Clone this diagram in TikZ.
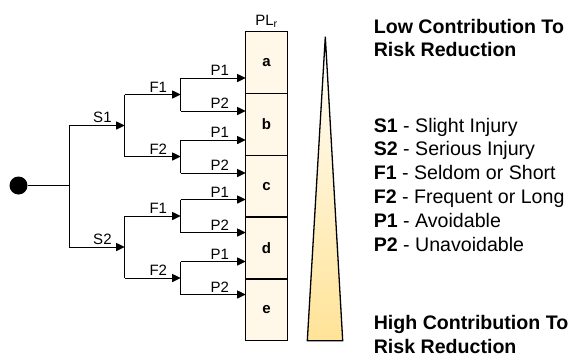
\documentclass[tikz,border=0pt]{standalone}
\usepackage{fontspec}
\setmainfont{Liberation Sans}
\usepackage{tikz}
\usetikzlibrary{positioning}
\usetikzlibrary{arrows.meta}
\definecolor{cellfill}{HTML}{FFF8E8}
\definecolor{wedge}{HTML}{FFE397}
\tikzset{every picture/.style={line width=1pt},
arr/.style={-{Triangle[length=8.5pt,width=8pt]}},
lbl/.style={above,inner sep=2pt,font=\fontsize{15}{18}\selectfont},
cell/.style={draw,line width=1.3pt,fill=cellfill,minimum width=41.6pt,minimum height=61.8pt,outer sep=0pt,inner sep=0pt,font=\bfseries\fontsize{15}{18}\selectfont},
legend/.style={anchor=base west,inner sep=0pt,font=\fontsize{19.6}{23}\selectfont}}

\begin{document}
\begin{tikzpicture}[x=1pt,y=-1pt]
\useasboundingbox (0,0) rectangle (577,362);
% PL_r column
\node (a) at (266.5,62.6) [cell] {a};
\foreach \c/\p in {b/a,c/b,d/c,e/d}{
\node (\c) [cell,below=0pt of \p] {\c};
}
\node (plr) [lbl,above=1.5pt of a] {PL\textsubscript{r}};
% risk graph
\node (start) at (18.5,185.5) [circle,fill,inner sep=0pt,minimum size=18pt] {};
\coordinate (root) at (69,185.5);
\draw (start) -- (root);
\foreach \i/\sy in {1/125.5,2/247}{
\coordinate (s\i) at (69,\sy);
\coordinate (S\i) at (124.7,\sy);
\draw[arr] (s\i) -- node[lbl,pos=0.6] {S\i} (S\i);
\foreach \j/\fy in {1/-31,2/31}{
\coordinate (f\i\j) at (124.7,{\sy+\fy});
\coordinate (F\i\j) at (180.7,{\sy+\fy});
\draw[arr] (f\i\j) -- node[lbl,pos=0.6] {F\j} (F\i\j);
\foreach \k/\py in {1/-16.5,2/16.5}{
\coordinate (p\i\j\k) at (180.7,{\sy+\fy+\py});
\draw[arr] (p\i\j\k) -- node[lbl,pos=0.6] {P\k} (p\i\j\k -| a.west);
}
\draw (p\i\j1) -- (p\i\j2);
}
\draw (f\i1) -- (f\i2);
}
\draw (s1) -- (s2);
% wedge
\draw[line width=1.3pt,top color=white,bottom color=wedge] (325.3,36.7) -- (342.7,340.7) -- (307.3,340.7) -- cycle;
% legend
\node (low1) at (373.3,33.3) [legend] {\bfseries Low Contribution To};
\node (low2) at (373.3,56.6) [legend] {\bfseries Risk Reduction};
\foreach \k/\txt [count=\n from 0] in {S1/Slight Injury,S2/Serious Injury,F1/Seldom or Short,F2/Frequent or Long,P1/Avoidable,P2/Unavoidable}{
\node (key\k) at (373.3,{132+23.8*\n}) [legend] {\textbf{\k} - \txt};
}
\node (high1) at (373.3,329.7) [legend] {\bfseries High Contribution To};
\node (high2) at (373.3,353.7) [legend] {\bfseries Risk Reduction};
\end{tikzpicture}
\end{document}
